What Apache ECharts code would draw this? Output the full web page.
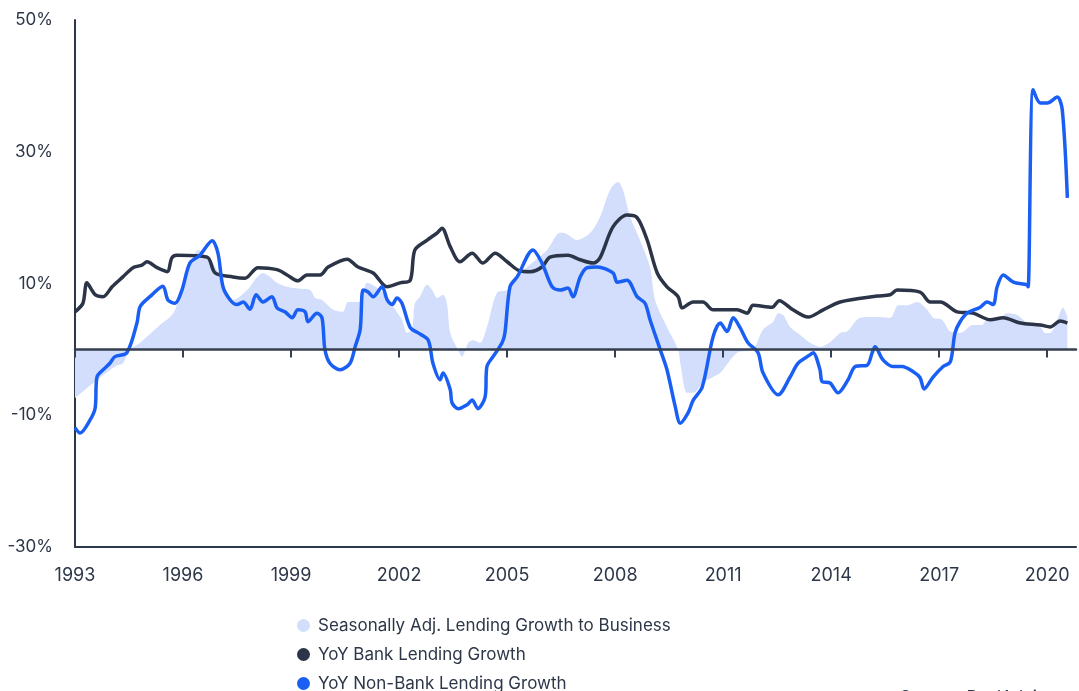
<!DOCTYPE html>
<html>
<head>
<meta charset="utf-8">
<script src="https://cdn.jsdelivr.net/npm/echarts@6/dist/echarts.min.js"></script>
<style>
  html, body { margin: 0; padding: 0; background: #fff; }
  #chart { width: 1079px; height: 691px; }
</style>
</head>
<body>
<div id="chart"></div>
<script>
  // values (x in fractional years, y in %)
  const yTicks = [-30, -10, 10, 30, 50];
  const xTicks = [1993, 1996, 1999, 2002, 2005, 2008, 2011, 2014, 2017, 2020];

  const businessYears = [1993.0, 1993.69, 1994.17, 1994.33, 1994.53, 1994.81, 1995.36, 1995.64, 1995.78, 1995.97, 1996.19, 1996.42, 1996.67, 1996.83, 1997.03, 1997.22, 1997.39, 1997.78, 1998.06, 1998.22, 1998.42, 1998.61, 1998.89, 1999.25, 1999.53, 1999.67, 1999.86, 2000.17, 2000.44, 2000.58, 2000.92, 2001.11, 2001.47, 2001.83, 2002.08, 2002.22, 2002.36, 2002.44, 2002.58, 2002.78, 2002.92, 2003.06, 2003.22, 2003.33, 2003.42, 2003.61, 2003.75, 2003.92, 2004.06, 2004.25, 2004.44, 2004.72, 2005.0, 2005.28, 2005.56, 2006.11, 2006.47, 2006.56, 2006.94, 2007.31, 2007.58, 2007.86, 2008.08, 2008.22, 2008.42, 2008.69, 2008.97, 2009.11, 2009.44, 2009.75, 2009.81, 2010.0, 2010.17, 2010.44, 2010.83, 2010.92, 2011.39, 2011.83, 2012.11, 2012.39, 2012.53, 2012.67, 2012.86, 2013.14, 2013.42, 2013.69, 2013.97, 2014.25, 2014.44, 2014.81, 2015.17, 2015.64, 2015.86, 2016.11, 2016.39, 2016.67, 2016.83, 2017.08, 2017.31, 2017.58, 2017.94, 2018.19, 2018.36, 2018.61, 2018.89, 2019.17, 2019.44, 2019.81, 2019.94, 2020.08, 2020.28, 2020.44, 2020.56];
  const businessValues = [-7.4, -4.3, -2.4, -2.1, 0, 1.0, 3.7, 4.9, 6.0, 9.0, 12.5, 15.1, 14.0, 13.1, 11.0, 8.6, 7.5, 9.0, 11.0, 11.6, 11.0, 10.1, 9.5, 9.2, 9.0, 7.8, 7.5, 6.0, 5.7, 7.2, 7.2, 10.1, 9.0, 6.5, 4.5, 2.5, 3.0, 7.0, 8.0, 9.8, 9.0, 7.8, 8.3, 7.0, 2.5, 0.2, -1.1, 1.0, 1.4, 1.0, 3.4, 8.6, 9.0, 11.0, 12.5, 15.1, 17.7, 17.7, 16.6, 17.7, 20.1, 24.2, 25.4, 24.2, 20.1, 16.6, 12.5, 7.5, 3.4, 0, -2.1, -6.6, -6.6, -5.1, -3.9, -3.6, -0.5, 0, 3.0, 4.2, 5.5, 5.2, 3.4, 2.2, 1.0, 0.4, 1.1, 2.5, 2.7, 4.8, 4.9, 4.8, 6.7, 6.7, 7.2, 6.0, 4.8, 4.5, 2.7, 2.5, 3.7, 3.7, 4.8, 4.5, 5.5, 5.2, 4.0, 3.4, 2.5, 2.5, 4.5, 6.3, 4.9];

  const bankYears = [1993.0, 1993.22, 1993.33, 1993.56, 1993.78, 1994.03, 1994.33, 1994.61, 1994.86, 1995.0, 1995.28, 1995.56, 1995.69, 1995.83, 1996.67, 1996.89, 1997.39, 1997.72, 1998.08, 1998.61, 1998.89, 1999.19, 1999.44, 1999.81, 2000.03, 2000.56, 2000.86, 2001.28, 2001.67, 2002.03, 2002.31, 2002.44, 2002.78, 2003.06, 2003.19, 2003.42, 2003.69, 2004.03, 2004.33, 2004.67, 2005.0, 2005.36, 2005.64, 2005.97, 2006.19, 2006.69, 2007.03, 2007.39, 2007.58, 2007.94, 2008.33, 2008.61, 2008.89, 2009.17, 2009.44, 2009.75, 2009.86, 2010.17, 2010.44, 2010.72, 2011.39, 2011.67, 2011.83, 2012.36, 2012.56, 2012.94, 2013.36, 2013.78, 2014.25, 2015.28, 2015.64, 2015.83, 2016.47, 2016.75, 2017.03, 2017.5, 2017.94, 2018.42, 2018.78, 2019.25, 2019.81, 2020.08, 2020.36, 2020.56];
  const bankValues = [5.7, 7.0, 10.1, 8.3, 8.0, 9.5, 11.0, 12.4, 12.8, 13.3, 12.4, 11.8, 13.9, 14.3, 14.0, 11.6, 11.0, 10.8, 12.4, 12.1, 11.3, 10.4, 11.3, 11.3, 12.5, 13.7, 12.5, 11.6, 9.5, 10.1, 10.5, 15.1, 16.6, 17.7, 18.4, 15.6, 13.3, 14.6, 13.1, 14.6, 13.3, 11.9, 11.8, 12.5, 14.0, 14.3, 13.6, 13.1, 13.9, 18.6, 20.4, 20.0, 16.6, 11.6, 9.5, 8.0, 6.3, 7.2, 7.2, 6.0, 6.0, 5.5, 6.7, 6.4, 7.4, 6.0, 4.9, 6.0, 7.2, 8.1, 8.3, 9.0, 8.7, 7.2, 7.2, 5.7, 5.5, 4.5, 4.8, 4.0, 3.7, 3.4, 4.3, 4.0];

  const nonBankYears = [1993.0, 1993.14, 1993.42, 1993.56, 1993.61, 1993.78, 1993.97, 1994.11, 1994.44, 1994.72, 1994.81, 1995.08, 1995.44, 1995.58, 1995.78, 1995.97, 1996.19, 1996.47, 1996.81, 1996.97, 1997.11, 1997.31, 1997.5, 1997.67, 1997.86, 1998.03, 1998.22, 1998.47, 1998.61, 1998.83, 1999.03, 1999.19, 1999.39, 1999.47, 1999.72, 1999.86, 1999.94, 2000.08, 2000.36, 2000.64, 2000.78, 2000.92, 2001.0, 2001.14, 2001.28, 2001.53, 2001.67, 2001.81, 2001.94, 2002.08, 2002.31, 2002.53, 2002.81, 2002.94, 2003.14, 2003.22, 2003.42, 2003.47, 2003.64, 2003.89, 2004.03, 2004.19, 2004.39, 2004.44, 2004.61, 2004.86, 2004.94, 2005.08, 2005.28, 2005.72, 2005.97, 2006.25, 2006.47, 2006.69, 2006.83, 2007.03, 2007.22, 2007.5, 2007.94, 2008.06, 2008.33, 2008.61, 2008.83, 2008.97, 2009.25, 2009.44, 2009.67, 2009.81, 2010.03, 2010.17, 2010.42, 2010.72, 2010.92, 2011.11, 2011.28, 2011.47, 2011.69, 2011.97, 2012.11, 2012.53, 2012.86, 2013.08, 2013.42, 2013.5, 2013.69, 2013.75, 2013.97, 2014.19, 2014.47, 2014.67, 2015.0, 2015.14, 2015.22, 2015.44, 2015.72, 2015.97, 2016.28, 2016.47, 2016.58, 2016.83, 2017.11, 2017.31, 2017.44, 2017.58, 2017.78, 2018.14, 2018.33, 2018.5, 2018.61, 2018.78, 2019.06, 2019.44, 2019.47, 2019.61, 2019.81, 2020.0, 2020.28, 2020.42, 2020.56];
  const nonBankValues = [-11.9, -12.7, -10.7, -8.9, -4.2, -3.1, -2.1, -1.1, -0.5, 4.0, 6.5, 8.0, 9.6, 7.5, 7.0, 9.0, 13.1, 14.3, 16.5, 14.6, 9.5, 7.5, 6.8, 7.2, 6.1, 8.3, 7.2, 8.0, 6.3, 5.7, 4.8, 6.0, 5.7, 4.2, 5.5, 4.8, 0, -2.1, -3.1, -2.1, 0.4, 3.0, 9.0, 8.7, 8.0, 9.5, 7.5, 6.8, 7.8, 7.0, 3.3, 2.5, 1.4, -2.1, -4.6, -3.6, -6.1, -8.1, -9.0, -8.4, -7.7, -9.0, -7.2, -2.6, -1.1, 1.0, 2.5, 9.5, 11.0, 15.1, 13.1, 9.5, 9.0, 9.3, 8.0, 11.0, 12.4, 12.5, 11.6, 10.2, 10.5, 8.0, 7.0, 4.5, 0, -3.1, -8.7, -11.2, -9.6, -7.7, -5.7, 1.9, 4.0, 2.7, 4.8, 3.3, 1.0, -0.5, -3.6, -6.9, -4.2, -2.1, -0.8, -0.5, -3.1, -4.9, -5.1, -6.6, -4.6, -2.6, -2.4, -0.5, 0.4, -1.6, -2.6, -2.6, -3.4, -4.3, -6.0, -4.2, -2.6, -1.9, 2.5, 4.2, 5.5, 6.4, 7.2, 6.8, 9.5, 11.3, 10.2, 9.8, 9.5, 39.4, 37.4, 37.4, 38.3, 36.3, 23.0];

  const zip = (xs, ys) => xs.map((x, i) => [x, ys[i]]);

  const textColor = '#2d3748';
  const axisColor = '#2d3748';
  const yMin = -30;
  const yMax = 50;

  const chartHeight = 691;
  const gridTop = 20;
  const gridBottom = 144;
  // bottom offset of a second grid whose lower edge sits on the 0% line
  const plotHeight = chartHeight - gridTop - gridBottom;
  const zeroBottom = gridBottom + plotHeight * (0 - yMin) / (yMax - yMin);

  const chart = echarts.init(document.getElementById('chart'));

  const option = {
    animation: false,
    textStyle: { fontFamily: 'Inter, "Noto Sans", sans-serif' },
    grid: [
      { left: 75, right: 3, top: gridTop, bottom: gridBottom },
      { left: 75, right: 3, top: gridTop, bottom: zeroBottom },
    ],
    xAxis: [
      {
        type: 'value',
        gridIndex: 0,
        min: 1993,
        max: 2020.8,
        interval: 3,
        axisLine: { onZero: false, lineStyle: { color: axisColor, width: 2 } },
        axisTick: { show: false },
        splitLine: { show: false },
        axisLabel: {
          color: textColor,
          fontSize: 18,
          margin: 20,
          formatter: (v) => (xTicks.includes(v) ? String(v) : ''),
        },
      },
      {
        // zero line with the small year ticks hanging below it
        type: 'value',
        gridIndex: 1,
        position: 'bottom',
        min: 1993,
        max: 2020.8,
        interval: 3,
        axisLine: { onZero: false, lineStyle: { color: '#353f50', width: 2.5 } },
        axisTick: { show: true, length: 8, lineStyle: { color: '#353f50', width: 2 } },
        axisLabel: { show: true, color: 'rgba(0,0,0,0)' },
        splitLine: { show: false },
        z: 5,
      },
    ],
    yAxis: [
      {
        type: 'value',
        gridIndex: 0,
        min: yMin,
        max: yMax,
        interval: 20,
        axisLine: { show: true, lineStyle: { color: axisColor, width: 2 } },
        axisTick: { show: false },
        splitLine: { show: false },
        axisLabel: {
          color: textColor,
          fontSize: 17,
          margin: 22,
          formatter: (v) => (yTicks.includes(v) ? v + '%' : ''),
        },
      },
      {
        type: 'value',
        gridIndex: 1,
        min: 0,
        max: yMax,
        show: false,
      },
    ],
    legend: {
      orient: 'vertical',
      left: 292,
      top: 612,
      height: 200,
      icon: 'circle',
      itemWidth: 13,
      itemHeight: 13,
      itemGap: 12,
      textStyle: { color: textColor, fontSize: 17, padding: [0, 0, 0, 3] },
      data: [
        'Seasonally Adj. Lending Growth to Business',
        'YoY Bank Lending Growth',
        'YoY Non-Bank Lending Growth',
      ],
    },
    graphic: [
      {
        type: 'text',
        left: 900,
        top: 689,
        style: { text: 'Source: RealAdvisor', fill: textColor, fontSize: 17, fontFamily: 'Inter, sans-serif' },
      },
    ],
    series: [
      {
        name: 'Seasonally Adj. Lending Growth to Business',
        type: 'line',
        xAxisIndex: 0,
        yAxisIndex: 0,
        data: zip(businessYears, businessValues),
        smooth: 0.3,
        showSymbol: false,
        lineStyle: { width: 0 },
        itemStyle: { color: '#d2defc' },
        areaStyle: { color: '#d2defc', opacity: 1, origin: 0 },
        z: 1,
      },
      {
        name: 'YoY Bank Lending Growth',
        type: 'line',
        xAxisIndex: 0,
        yAxisIndex: 0,
        data: zip(bankYears, bankValues),
        smooth: 0.3,
        showSymbol: false,
        itemStyle: { color: '#2b3547' },
        lineStyle: { color: '#2b3547', width: 3.5 },
        z: 3,
      },
      {
        name: 'YoY Non-Bank Lending Growth',
        type: 'line',
        xAxisIndex: 0,
        yAxisIndex: 0,
        data: zip(nonBankYears, nonBankValues),
        smooth: 0.3,
        showSymbol: false,
        itemStyle: { color: '#1a5ff4' },
        lineStyle: { color: '#1a5ff4', width: 3.5 },
        z: 4,
      },
    ],
  };

  chart.setOption(option);
</script>
</body>
</html>
